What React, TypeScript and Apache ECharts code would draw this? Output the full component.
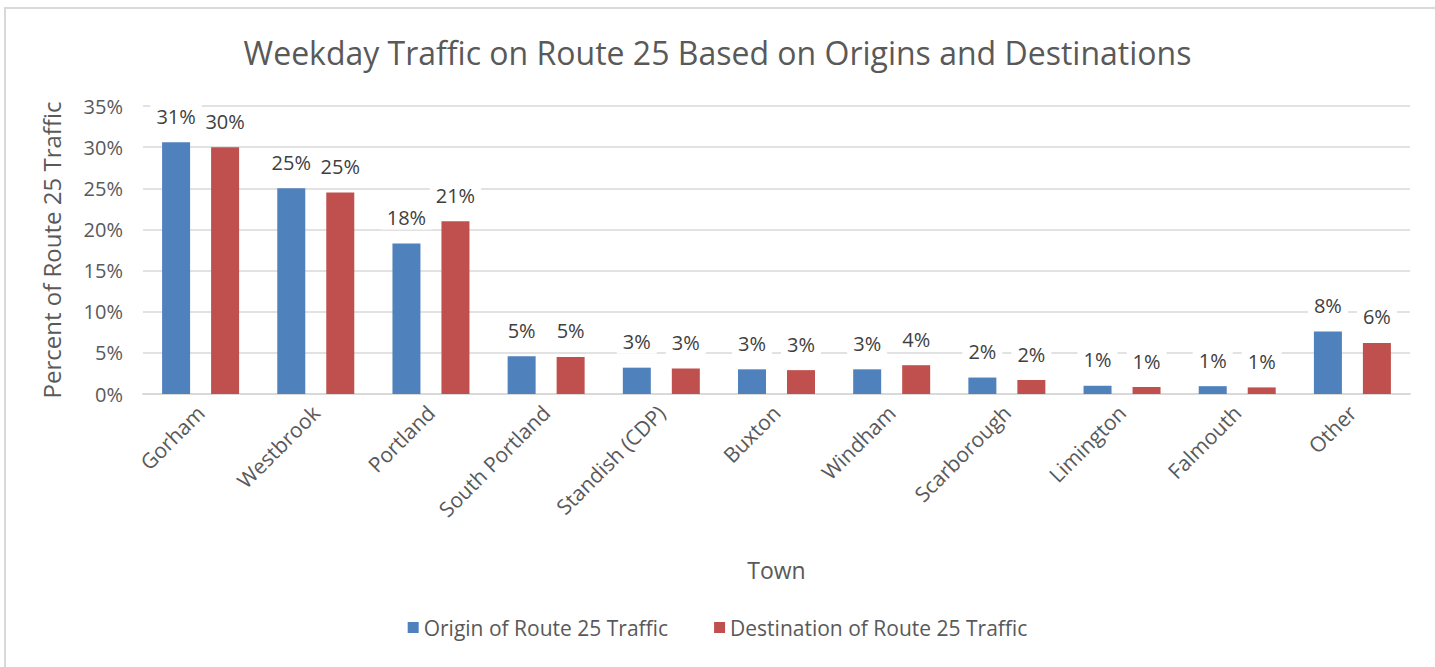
import React, { useEffect, useRef } from "react";
import * as echarts from "echarts";

const towns = ["Gorham", "Westbrook", "Portland", "South Portland", "Standish (CDP)", "Buxton", "Windham", "Scarborough", "Limington", "Falmouth", "Other"];
const originValues = [30.6, 25.0, 18.3, 4.6, 3.2, 3.0, 3.0, 2.0, 1.0, 0.95, 7.6];
const destinationValues = [30.0, 24.5, 21.0, 4.5, 3.1, 2.9, 3.5, 1.7, 0.85, 0.8, 6.2];
const yTicks = [0, 5, 10, 15, 20, 25, 30, 35];
const seriesNames = ["Origin of Route 25 Traffic", "Destination of Route 25 Traffic"];

const FONT = "Open Sans";
const TEXT = "#595959";

export default function App() {
  const ref = useRef<HTMLDivElement>(null);
  useEffect(() => {
    if (!ref.current) return;
    const chart = echarts.init(ref.current, undefined, { renderer: "svg" });
    const label = {
      show: true,
      position: "top",
      distance: 14,
      formatter: (p: any) => Math.round(p.value) + "%",
      color: "#404040",
      fontSize: 20,
      fontFamily: FONT,
      backgroundColor: "#ffffff",
      padding: [2, 6],
    };
    chart.setOption({
      animation: false,
      backgroundColor: "#ffffff",
      textStyle: { fontFamily: FONT },
      title: {
        text: "Weekday Traffic on Route 25 Based on Origins and Destinations",
        left: "center",
        top: 31,
        textStyle: { fontFamily: FONT, fontSize: 32, fontWeight: "normal", color: TEXT },
      },
      graphic: [
        {
          type: "rect",
          shape: { x: 5, y: 8, width: 1600, height: 800 },
          style: { fill: "none", stroke: "#D9D9D9", lineWidth: 2 },
          silent: true,
        },
      ],
      legend: {
        bottom: 24,
        left: "center",
        itemGap: 46,
        icon: "rect",
        itemWidth: 11,
        itemHeight: 11,
        textStyle: { fontFamily: FONT, fontSize: 21, color: TEXT },
        data: seriesNames,
      },
      grid: { left: 143, right: 25, top: 106, bottom: 273 },
      xAxis: {
        type: "category",
        data: towns,
        name: "Town",
        nameLocation: "middle",
        nameGap: 164,
        nameTextStyle: { fontFamily: FONT, fontSize: 23, color: TEXT },
        axisLine: { lineStyle: { color: "#D9D9D9", width: 2 } },
        axisTick: { show: false },
        axisLabel: { rotate: 45, fontFamily: FONT, fontSize: 21, color: TEXT, margin: 15, interval: 0 },
      },
      yAxis: {
        type: "value",
        min: yTicks[0],
        max: yTicks[yTicks.length - 1],
        interval: 5,
        name: "Percent of Route 25 Traffic",
        nameLocation: "middle",
        nameGap: 80,
        nameTextStyle: { fontFamily: FONT, fontSize: 24, color: TEXT },
        axisLine: { show: false },
        axisTick: { show: false },
        axisLabel: { formatter: "{value}%", fontFamily: FONT, fontSize: 20, color: TEXT, margin: 20 },
        splitLine: { lineStyle: { color: "#D9D9D9", width: 1.5 } },
      },
      series: [
        {
          name: seriesNames[0],
          type: "bar",
          data: originValues,
          barWidth: 28,
          barGap: "75%",
          itemStyle: { color: "#4F81BD" },
          label,
        },
        {
          name: seriesNames[1],
          type: "bar",
          data: destinationValues,
          barWidth: 28,
          barGap: "75%",
          itemStyle: { color: "#C0504D" },
          label,
        },
      ],
    });
    return () => chart.dispose();
  }, []);
  return <div ref={ref} style={{ position: "fixed", left: 0, top: 0, width: 1435, height: 667 }} />;
}
